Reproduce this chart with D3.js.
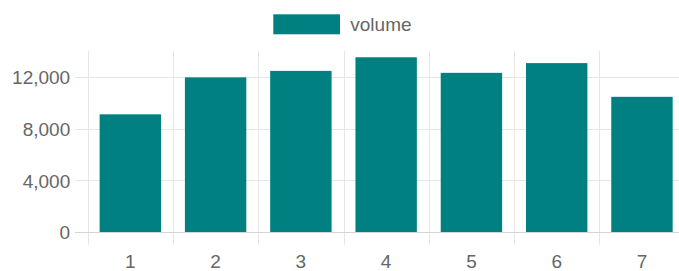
<!DOCTYPE html>
<html>
<head>
<meta charset="utf-8">
<script src="https://cdn.jsdelivr.net/npm/d3@7"></script>
<style>
  html, body { margin: 0; padding: 0; background: #fff; }
  svg { display: block; }
  text { font-family: "Liberation Sans", Arial, Helvetica, sans-serif; fill: #666; }
</style>
</head>
<body>
<svg id="chart" width="679" height="271"></svg>
<script>
const categories = ["1", "2", "3", "4", "5", "6", "7"];
const volume = [9100, 11950, 12450, 13500, 12300, 13050, 10450];
const yTicks = [0, 4000, 8000, 12000];
const seriesName = "volume";

(function () {
const W = 679, H = 271;
const fontSize = 19;
const barColor = "#008080";
const gridColor = "#e6e6e6";

const svg = d3.select("#chart");

const plotLeft = 87.7, plotRight = 684.6, plotBottom = 232.3, plotTop = 50.8;
const x = d3.scaleBand().domain(categories).range([plotLeft, plotRight]).padding(0);
const y = d3.scaleLinear().domain([0, 14000]).range([plotBottom, plotTop]);

// horizontal gridlines (via axis)
const yAxis = d3.axisLeft(y).tickValues(yTicks).tickFormat(d3.format(","))
  .tickSize(-(W - plotLeft)).tickPadding(0);
const gy = svg.append("g").attr("transform", `translate(${plotLeft},0)`).call(yAxis);
gy.select(".domain").remove();
gy.selectAll(".tick line")
  .attr("x1", -12.5)
  .attr("stroke", d => d === 0 ? "#d4d4d4" : gridColor)
  .attr("shape-rendering", "crispEdges");
gy.selectAll(".tick text")
  .attr("x", -17.5)
  .attr("dy", "0.35em")
  .style("font-size", fontSize + "px")
  .style("font-family", "'Liberation Sans', Arial, sans-serif")
  .attr("fill", "#666");

// vertical gridlines at category boundaries
const bounds = categories.map(c => x(c));
svg.append("g").selectAll("line").data(bounds).join("line")
  .attr("x1", d => Math.round(d) + 0.5).attr("x2", d => Math.round(d) + 0.5)
  .attr("y1", plotTop).attr("y2", plotBottom + 12.5)
  .attr("stroke", gridColor);

// x axis labels
const xAxis = d3.axisBottom(x).tickSize(0).tickPadding(0);
const gx = svg.append("g").attr("transform", `translate(0,${plotBottom})`).call(xAxis);
gx.select(".domain").remove();
gx.selectAll(".tick text")
  .attr("y", 36)
  .attr("dy", 0)
  .style("font-size", fontSize + "px")
  .style("font-family", "'Liberation Sans', Arial, sans-serif")
  .attr("fill", "#666");

// bars
const bw = x.bandwidth() * 0.72;
svg.append("g").selectAll("rect").data(volume).join("rect")
  .attr("x", (d, i) => x(categories[i]) + (x.bandwidth() - bw) / 2)
  .attr("width", bw)
  .attr("y", d => y(d))
  .attr("height", d => y(0) - y(d))
  .attr("fill", barColor);

// redraw zero line on top
svg.append("line")
  .attr("x1", plotLeft - 12.5).attr("x2", W)
  .attr("y1", Math.round(y(0)) + 0.5).attr("y2", Math.round(y(0)) + 0.5)
  .attr("stroke", "#d4d4d4");

// legend
const lg = svg.append("g").attr("transform", "translate(273.3,14.3)");
lg.append("rect").attr("width", 66.7).attr("height", 20).attr("fill", barColor);
lg.append("text").attr("x", 77).attr("y", 10).attr("dy", "0.35em")
  .style("font-size", fontSize + "px").attr("fill", "#666").text(seriesName);
})();
</script>
</body>
</html>
